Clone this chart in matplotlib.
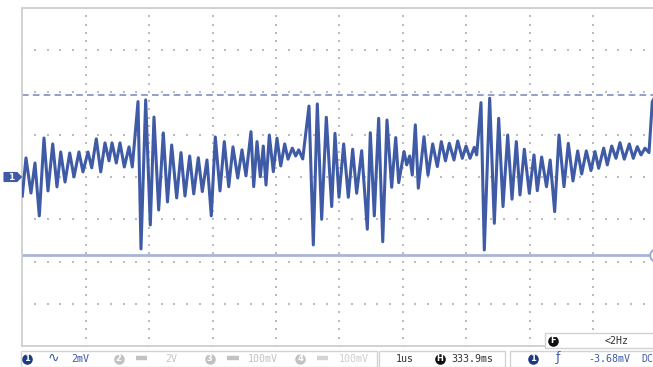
import matplotlib
matplotlib.use('Agg')
import matplotlib.pyplot as plt
from matplotlib.patches import Rectangle, Polygon
import numpy as np

# channel 1 trace, time in us and voltage in mV (one vertex per sample)
t_us = [0.000, 0.058, 0.137, 0.200, 0.268, 0.342, 0.405, 0.480, 0.547, 0.606,
        0.674, 0.748, 0.815, 0.894, 0.957, 1.036, 1.095, 1.167, 1.237, 1.304,
        1.368, 1.415, 1.483, 1.541, 1.609, 1.683, 1.735, 1.825, 1.872, 1.946,
        2.019, 2.077, 2.151, 2.224, 2.290, 2.356, 2.435, 2.503, 2.566, 2.640,
        2.704, 2.776, 2.839, 2.913, 2.981, 3.044, 3.118, 3.186, 3.256, 3.323,
        3.398, 3.465, 3.528, 3.607, 3.650, 3.702, 3.754, 3.801, 3.844, 3.896,
        3.959, 4.017, 4.076, 4.139, 4.191, 4.259, 4.312, 4.360, 4.423, 4.522,
        4.590, 4.653, 4.722, 4.795, 4.880, 4.932, 4.995, 5.069, 5.142, 5.211,
        5.274, 5.353, 5.442, 5.489, 5.552, 5.621, 5.685, 5.752, 5.826, 5.890,
        5.937, 6.021, 6.063, 6.110, 6.151, 6.199, 6.246, 6.336, 6.399, 6.473,
        6.546, 6.609, 6.675, 6.735, 6.809, 6.868, 6.940, 6.999, 7.062, 7.129,
        7.167, 7.235, 7.287, 7.372, 7.445, 7.514, 7.582, 7.656, 7.724, 7.792,
        7.850, 7.918, 7.997, 8.071, 8.123, 8.192, 8.268, 8.326, 8.397, 8.465,
        8.544, 8.612, 8.686, 8.760, 8.823, 8.896, 8.970, 9.033, 9.091, 9.170,
        9.227, 9.297, 9.364, 9.427, 9.495, 9.574, 9.637, 9.700, 9.759, 9.822,
        9.885, 9.937, 9.980]
v_mv = [-0.90, 0.90, -0.76, 0.66, -1.84, 1.84, -0.66, 1.56, -0.47, 1.18,
        -0.24, 1.13, 0.00, 1.18, 0.24, 1.18, 0.43, 1.80, 0.24, 1.61,
        0.76, 1.61, 0.66, 1.61, 0.47, 1.42, 0.47, 3.56, -3.40, 3.64,
        -2.27, 2.83, -1.56, 2.08, -1.18, 1.51, -0.99, 1.15, -0.90, 0.99,
        -0.80, 0.91, -0.69, 0.80, -1.84, 1.89, -0.66, 1.67, -0.46, 1.42,
        -0.05, 1.28, 0.05, 2.14, -0.46, 1.67, 0.01, 1.46, -0.38, 1.98,
        0.25, 1.83, 0.52, 1.56, 0.84, 1.36, 0.99, 1.28, 0.85, 3.35,
        -3.21, 3.45, -2.00, 2.82, -1.40, 2.06, -0.96, 1.56, -0.96, 1.31,
        -0.77, 1.24, -2.47, 2.09, -1.84, 2.77, -3.06, 2.69, -0.49, 1.86,
        -0.27, 1.20, 0.57, 0.99, 0.09, 2.46, -0.53, 1.90, 0.09, 1.56,
        0.49, 1.67, 0.76, 1.59, 0.80, 1.70, 0.88, 1.46, 0.88, 1.40,
        1.04, 3.51, -3.45, 3.72, -2.19, 2.77, -1.40, 1.98, -1.05, 1.67,
        -0.85, 1.31, -0.77, 1.04, -0.65, 0.94, -0.46, 0.80, -1.64, 1.98,
        -0.46, 1.59, -0.19, 1.23, 0.14, 1.23, 0.30, 1.20, 0.41, 1.36,
        0.57, 1.46, 0.88, 1.62, 0.84, 1.56, 0.88, 1.43, 1.04, 1.36,
        1.15, 3.56, 3.78]

mv_per_div = 2
us_per_div = 1
n_xdiv, n_ydiv = 10, 8
trigger_mv = -3.68
cursor_mv = 3.87

BLUE = '#3f5ba6'
NAVY = '#1d3a85'
GREY = '#c2c2c2'
MONO = 'DejaVu Sans Mono'

fig = plt.figure(figsize=(6.53, 3.67), dpi=100)
W, H = 653, 367

# scope screen (right edge runs slightly past the figure)
ax = fig.add_axes([22.3 / W, 20.7 / H, 634 / W, 338.7 / H])
ax.set_xlim(0, n_xdiv * us_per_div)
ax.set_ylim(-n_ydiv / 2 * mv_per_div, n_ydiv / 2 * mv_per_div)
ax.set_xticks([])
ax.set_yticks([])
for side, sp in ax.spines.items():
    sp.set_color('#cfcfcf')
    sp.set_linewidth(1.3)
ax.spines['right'].set_visible(False)

# dotted graticule: dots every fifth of a division along each major line
minor_x = np.arange(0, n_xdiv * us_per_div + 1e-9, us_per_div / 5)
minor_y = np.arange(-8, 8 + 1e-9, mv_per_div / 5)
for k in range(1, n_xdiv):
    ax.scatter(np.full_like(minor_y, k * us_per_div), minor_y, s=1.4,
               marker='s', c='#bcbcbc', lw=0, zorder=1)
for k in range(-3, 4):
    ax.scatter(minor_x, np.full_like(minor_x, k * mv_per_div), s=1.4,
               marker='s', c='#bcbcbc', lw=0, zorder=1)

ax.axhline(cursor_mv, color='#7e8fc6', lw=1.2, ls=(0, (4, 2.5)), zorder=2)
ax.axhline(trigger_mv, color='#a9b5d8', lw=2.0, zorder=2)
ax.plot([10], [trigger_mv], marker='o', ms=9, mfc='white', mec='#9aa8d4',
        mew=1.4, clip_on=False, zorder=3)

ax.plot(t_us, v_mv, color=BLUE, lw=2.2, solid_joinstyle='round', zorder=4)

# overlay in pixel units for the channel tag and the status bar
ui = fig.add_axes([0, 0, 1, 1])
ui.set_xlim(0, W)
ui.set_ylim(H, 0)
ui.axis('off')

ui.add_patch(Polygon([(4, 172.5), (17, 172.5), (21.5, 177), (17, 181.5), (4, 181.5)],
                     closed=True, fc=BLUE, ec=BLUE, lw=0.8))
ui.text(11, 177.5, '1', color='white', fontsize=6.5, fontweight='bold',
        ha='center', va='center', family='DejaVu Sans')

def box(x0, x1, y0, y1, fill=False):
    ui.add_patch(Rectangle((x0, y0), x1 - x0, y1 - y0, fc='white' if fill else 'none',
                           ec='#d2d2d2', lw=1.0, zorder=5))

def badge(x, y, label, color):
    ui.scatter([x], [y], s=58, c=color, lw=0, zorder=6)
    ui.text(x, y + 0.3, label, color='white', fontsize=6, fontweight='bold',
            ha='center', va='center', family='DejaVu Sans', zorder=7)

def label(x, y, s, color, ha='center'):
    ui.text(x, y, s, color=color, fontsize=7.2, family=MONO,
            ha=ha, va='center', zorder=7)

def bar(x0, x1, y, color):
    ui.plot([x0, x1], [y, y], color=color, lw=3.2, solid_capstyle='butt', zorder=6)

ty = 358.5
box(21, 377, 350.5, 366.5)
box(379, 505, 350.5, 366.5)
box(510, 656, 350.5, 366.5)

badge(26.5, ty, '1', NAVY)
ui.text(53, ty - 0.5, '\u223f', color=BLUE, fontsize=10, ha='center', va='center',
        family='DejaVu Sans', zorder=7)
label(80.5, ty, '2mV', BLUE)
badge(118.5, ty, '2', GREY)
bar(136, 147, ty - 0.5, GREY)
label(171, ty, '2V', GREY)
badge(209.5, ty, '3', GREY)
bar(227, 239, ty - 0.5, GREY)
label(263, ty, '100mV', GREY)
badge(300, ty, '4', GREY)
bar(317, 328, ty - 0.5, '#d4d4d4')
label(354, ty, '100mV', '#cdcdcd')

label(404.5, ty, '1us', '#333333')
badge(440, ty, 'H', '#111111')
label(472.5, ty, '333.9ms', '#333333')

badge(532.5, ty, '1', NAVY)
ui.text(558, ty - 0.5, '\u0192', color=BLUE, fontsize=9, ha='center', va='center',
        family='DejaVu Sans', zorder=7)
label(609, ty, '-3.68mV', BLUE)
label(641.5, ty, 'DC', BLUE, ha='left')

# frequency counter readout
box(545, 656, 332.5, 348, fill=True)
badge(553, 340.5, 'F', '#111111')
label(616.5, 340.5, '<2Hz', '#333333')

fig.savefig('out.png', dpi=100)
